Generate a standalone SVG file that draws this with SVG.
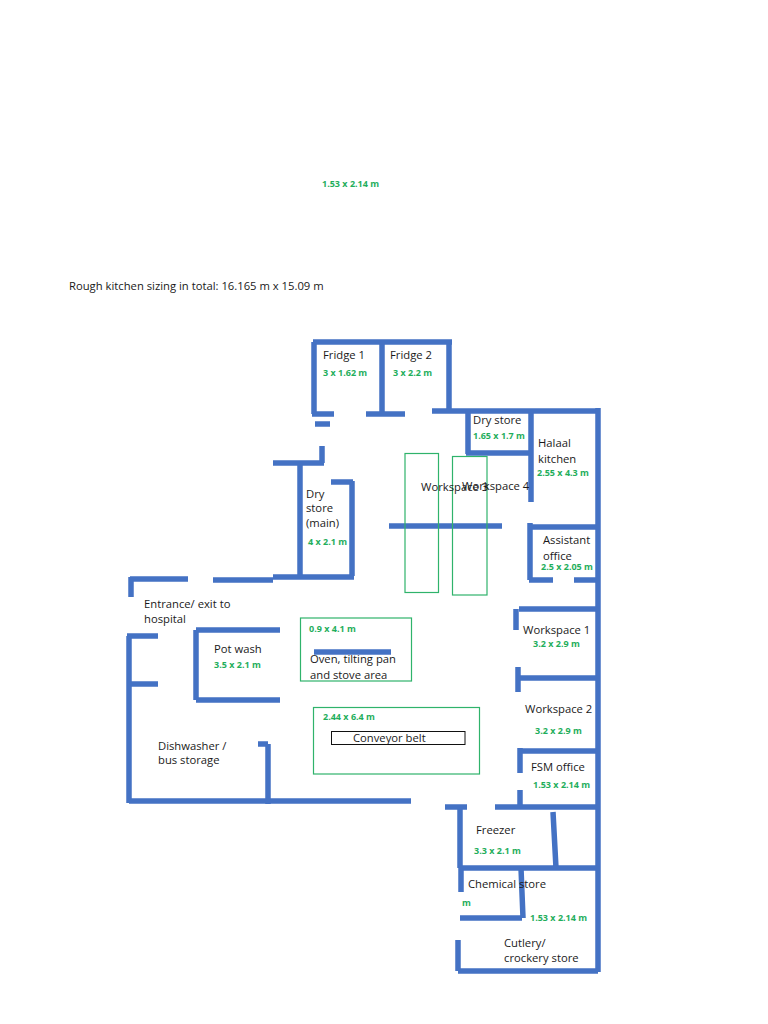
<svg xmlns="http://www.w3.org/2000/svg" width="768" height="1024" viewBox="0 0 768 1024">
<style>
text{font-family:"Open Sans","Liberation Sans",sans-serif}
.l{font-size:11.25px;fill:#1a1a1a}
.d{font-size:9px;font-weight:700;fill:#1fae5c}
.w{stroke:#4472c4;stroke-width:5.5;fill:none;stroke-linecap:butt}
.g{stroke:#2fb36b;stroke-width:1.2;fill:none}
</style>
<rect width="768" height="1024" fill="#fff"/>
<g id="walls">
<path class="w" d="M313 342H452M314 342V414M312 414H334M315 424H330M382 342V414M366 414H405M449 342V411M432 411H598"/>
<path class="w" d="M322 446V463M273 463H324M300 463V578M331 482H353M352 481V576M273 577H354M213 580H273M188 579H130M131 577V597"/>
<path class="w" d="M389 526H502M468 411V454M466 453H532M531 411V502M598 408V972M530 523V580M530 527H598M529 580H553M574 580H598"/>
<path class="w" d="M519 609H598M516 609V630M518 667V692M519 678H598M519 751H598M520 748V773M520 790V807M495 807H598"/>
<path class="w" d="M129 636V803M127 636H158M129 684H158M196 630V700M196 630H280M196 700H280M129 801H411M258 744H268M268 744V804"/>
<path class="w" d="M445 807H467M460 807V868M461 868V892M460 868H598M553 812L556 868M521 868L523 918M460 918H522M458 940V971M458 971H598"/>
<path class="w" d="M314 652H391"/>
</g>
<g id="boxes">
<rect class="g" x="405" y="453.500" width="33.500" height="139"/>
<rect class="g" x="452.500" y="456.500" width="34.500" height="138.500"/>
<rect class="g" x="300.500" y="618" width="111" height="63"/>
<rect class="g" x="313.500" y="707.500" width="166" height="66.500"/>
<rect x="331.500" y="731.500" width="133.500" height="13" fill="none" stroke="#111" stroke-width="1"/>
</g>
<g id="labels">
<text class="d" x="322" y="187">1.53 x 2.14 m</text>
<text class="l" x="69" y="290">Rough kitchen sizing in total: 16.165 m x 15.09 m</text>
<text class="l" x="323" y="359">Fridge 1</text>
<text class="d" x="323" y="376">3 x 1.62  m</text>
<text class="l" x="390" y="359">Fridge 2</text>
<text class="d" x="393" y="376">3 x 2.2  m</text>
<text class="l" x="473" y="424">Dry store</text>
<text class="d" x="473" y="439">1.65 x 1.7 m</text>
<text class="l" x="538" y="447">Halaal</text>
<text class="l" x="538" y="463">kitchen</text>
<text class="d" x="537" y="476">2.55 x 4.3 m</text>
<text class="l" x="421" y="491">Workspace 3</text>
<text class="l" x="462" y="490">Workspace 4</text>
<text class="l" x="306" y="498">Dry</text>
<text class="l" x="306" y="512">store</text>
<text class="l" x="306" y="527">(main)</text>
<text class="d" x="308" y="545">4 x 2.1 m</text>
<text class="l" x="543" y="544">Assistant</text>
<text class="l" x="543" y="560">office</text>
<text class="d" x="541" y="570">2.5 x 2.05 m</text>
<text class="l" x="144" y="608">Entrance/ exit to</text>
<text class="l" x="144" y="623">hospital</text>
<text class="l" x="214" y="653">Pot wash</text>
<text class="d" x="214" y="668">3.5 x 2.1 m</text>
<text class="d" x="309" y="632">0.9 x 4.1 m</text>
<text class="l" x="310" y="663">Oven, tilting pan</text>
<text class="l" x="310" y="679">and stove area</text>
<text class="l" x="523" y="634">Workspace 1</text>
<text class="d" x="533" y="647">3.2 x 2.9 m</text>
<text class="l" x="525" y="713">Workspace 2</text>
<text class="d" x="535" y="734">3.2 x 2.9 m</text>
<text class="d" x="323" y="720">2.44 x 6.4 m</text>
<text class="l" x="353" y="742">Conveyor belt</text>
<text class="l" x="158" y="750">Dishwasher /</text>
<text class="l" x="158" y="764">bus storage</text>
<text class="l" x="531" y="771">FSM office</text>
<text class="d" x="533" y="788">1.53 x 2.14 m</text>
<text class="l" x="476" y="834">Freezer</text>
<text class="d" x="474" y="854">3.3 x 2.1 m</text>
<text class="l" x="468" y="888">Chemical store</text>
<text class="d" x="462" y="906">m</text>
<text class="d" x="530" y="921">1.53 x 2.14 m</text>
<text class="l" x="504" y="947">Cutlery/</text>
<text class="l" x="504" y="962">crockery store</text>
</g>
</svg>
